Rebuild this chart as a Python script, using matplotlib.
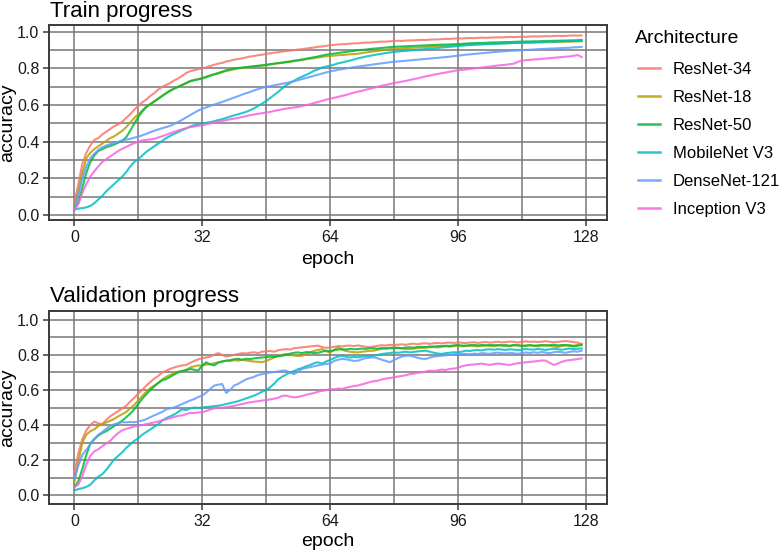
import matplotlib
matplotlib.use('Agg')
import matplotlib.pyplot as plt
from matplotlib.lines import Line2D

plt.rcParams['font.family'] = ['Liberation Sans', 'DejaVu Sans']

W, H = 780, 554
epochs = list(range(128))
architectures = ['ResNet-34', 'ResNet-18', 'ResNet-50', 'MobileNet V3', 'DenseNet-121', 'Inception V3']
colors = ['#F8766D', '#B79F00', '#00BA38', '#00BFC4', '#619CFF', '#F564E3']
x_ticks = [0, 32, 64, 96, 128]
y_ticks = [0.0, 0.2, 0.4, 0.6, 0.8, 1.0]
y_tick_labels = ['0.0', '0.2', '0.4', '0.6', '0.8', '1.0']

# ---------------- Train accuracy ----------------
train_resnet34 = [.07, .17, .28, .34, .38, .41, .42, .44, .455, .47, .485, .495, .51, .53, .55, .575,
                  .595, .615, .63, .65, .665, .685, .70, .71, .72, .735, .745, .76, .775, .785, .79, .795,
                  .80, .806, .813, .82, .826, .83, .838, .842, .848, .851, .855, .86, .865, .868, .872, .875,
                  .88, .882, .886, .888, .892, .895, .897, .90, .903, .905, .908, .912, .914, .918, .92, .923,
                  .927, .928, .931, .932, .933, .935, .937, .937, .94, .941, .941, .943, .945, .946, .946, .948,
                  .95, .951, .95, .952, .953, .953, .955, .956, .955, .957, .958, .958, .96, .961, .961, .963,
                  .964, .963, .965, .966, .965, .967, .968, .967, .968, .969, .97, .969, .971, .972, .971, .972,
                  .973, .972, .974, .975, .974, .975, .976, .975, .977, .978, .977, .978, .979, .98, .979, .98]
train_resnet18 = [.05, .13, .23, .31, .34, .36, .375, .39, .405, .42, .43, .445, .46, .48, .505, .53,
                  .55, .57, .59, .605, .62, .635, .65, .665, .68, .69, .70, .71, .72, .732, .738, .742,
                  .748, .755, .762, .768, .772, .78, .786, .79, .795, .80, .802, .805, .808, .81, .813, .815,
                  .818, .822, .825, .828, .83, .834, .836, .84, .843, .846, .85, .853, .856, .86, .863, .866,
                  .868, .87, .872, .873, .875, .877, .878, .88, .884, .887, .89, .893, .896, .899, .902, .905,
                  .907, .908, .91, .911, .912, .913, .914, .916, .917, .918, .92, .921, .922, .923, .924, .925,
                  .927, .928, .93, .931, .932, .933, .933, .934, .935, .935, .936, .937, .937, .938, .939, .939,
                  .94, .94, .941, .941, .942, .942, .943, .943, .944, .945, .945, .946, .946, .947, .947, .948]
train_resnet50 = [.03, .07, .15, .23, .29, .325, .35, .36, .37, .377, .385, .395, .405, .425, .46, .50,
                  .535, .565, .59, .605, .62, .635, .65, .665, .678, .69, .70, .71, .72, .73, .735, .74,
                  .745, .752, .76, .768, .775, .782, .79, .795, .80, .802, .805, .807, .81, .812, .815, .817,
                  .82, .823, .826, .829, .832, .835, .838, .842, .845, .849, .853, .857, .861, .865, .87, .875,
                  .878, .881, .884, .887, .89, .893, .896, .899, .901, .903, .906, .908, .91, .912, .914, .916,
                  .918, .919, .92, .921, .922, .923, .924, .925, .926, .927, .928, .929, .93, .93, .931, .932,
                  .933, .934, .936, .937, .938, .939, .939, .94, .941, .942, .942, .943, .944, .944, .945, .946,
                  .946, .947, .947, .948, .948, .949, .95, .95, .951, .951, .952, .952, .953, .953, .954, .955]
train_mobilenet = [.03, .035, .038, .042, .05, .065, .085, .105, .13, .15, .17, .19, .21, .235, .265, .29,
                   .305, .325, .345, .36, .375, .39, .405, .42, .432, .443, .453, .463, .473, .483, .49, .495,
                   .50, .503, .507, .512, .518, .523, .53, .537, .544, .55, .556, .563, .572, .582, .595, .608,
                   .622, .638, .655, .672, .69, .708, .72, .733, .745, .755, .765, .775, .787, .795, .805, .81,
                   .815, .82, .828, .832, .838, .843, .849, .855, .86, .865, .869, .873, .877, .88, .884, .887,
                   .89, .892, .894, .896, .898, .90, .902, .904, .906, .908, .91, .912, .914, .916, .918, .92,
                   .922, .924, .926, .928, .929, .93, .931, .932, .933, .934, .935, .936, .937, .938, .939, .94,
                   .941, .942, .942, .943, .944, .944, .945, .946, .946, .947, .948, .948, .949, .95, .95, .951]
train_densenet = [.027, .11, .20, .265, .31, .335, .355, .37, .38, .387, .393, .40, .408, .412, .416, .422,
                  .428, .435, .443, .452, .46, .467, .474, .48, .487, .497, .508, .52, .533, .545, .558, .57,
                  .58, .587, .595, .603, .61, .617, .625, .633, .641, .649, .657, .665, .672, .68, .687, .694,
                  .70, .703, .708, .712, .716, .72, .725, .73, .736, .742, .748, .754, .76, .766, .772, .778,
                  .784, .788, .792, .796, .80, .803, .807, .81, .813, .816, .819, .822, .825, .828, .831, .834,
                  .836, .838, .84, .842, .844, .846, .848, .85, .852, .854, .856, .858, .86, .862, .864, .867,
                  .87, .872, .875, .877, .879, .881, .883, .885, .887, .889, .891, .893, .894, .896, .897, .898,
                  .90, .901, .902, .903, .905, .906, .907, .908, .909, .91, .911, .912, .913, .915, .916, .918]
train_inception = [.03, .06, .12, .17, .21, .24, .265, .29, .305, .32, .335, .35, .362, .372, .383, .392,
                   .40, .407, .41, .413, .416, .423, .43, .438, .446, .454, .462, .468, .474, .48, .483, .487,
                   .49, .495, .50, .505, .51, .514, .518, .522, .526, .53, .535, .54, .545, .549, .552, .556,
                   .559, .563, .568, .572, .577, .581, .584, .587, .59, .595, .60, .605, .611, .617, .623, .629,
                   .635, .64, .645, .65, .655, .662, .668, .673, .678, .684, .69, .695, .70, .706, .71, .715,
                   .72, .724, .728, .732, .737, .742, .746, .752, .757, .761, .766, .77, .774, .778, .782, .786,
                   .79, .792, .794, .797, .80, .802, .805, .808, .81, .813, .816, .818, .82, .823, .826, .835,
                   .843, .845, .847, .849, .85, .852, .854, .856, .858, .86, .862, .864, .866, .869, .873, .862]

# ---------------- Validation accuracy ----------------
val_resnet34 = [.13, .24, .32, .37, .40, .42, .41, .405, .43, .45, .465, .48, .495, .51, .535, .555,
                .58, .60, .625, .645, .665, .68, .70, .71, .72, .728, .735, .74, .742, .755, .765, .775,
                .78, .785, .79, .80, .81, .80, .79, .795, .80, .805, .81, .808, .812, .815, .81, .818,
                .82, .822, .818, .826, .83, .833, .83, .838, .84, .843, .845, .848, .85, .853, .845, .84,
                .842, .846, .85, .848, .852, .853, .85, .854, .85, .846, .843, .848, .852, .855, .853, .857,
                .856, .858, .86, .857, .862, .864, .86, .865, .866, .863, .866, .868, .865, .869, .87, .868,
                .871, .869, .867, .87, .872, .868, .871, .873, .87, .872, .875, .871, .873, .876, .874, .871,
                .875, .877, .874, .876, .873, .875, .878, .875, .872, .874, .877, .879, .876, .873, .87, .862]
val_resnet18 = [.076, .19, .30, .345, .365, .375, .395, .405, .415, .425, .435, .45, .462, .475, .495, .515,
                .54, .565, .59, .61, .625, .64, .66, .675, .685, .695, .705, .708, .715, .728, .735, .74,
                .738, .745, .748, .752, .758, .762, .767, .765, .77, .767, .772, .768, .765, .762, .76, .758,
                .765, .775, .785, .795, .80, .805, .80, .796, .794, .795, .805, .815, .822, .828, .833, .82,
                .814, .828, .843, .83, .822, .818, .815, .814, .818, .82, .823, .824, .83, .835, .838, .84,
                .843, .84, .836, .834, .833, .836, .838, .84, .842, .843, .845, .842, .847, .849, .846, .85,
                .852, .849, .851, .853, .85, .848, .852, .855, .851, .849, .853, .856, .852, .85, .854, .857,
                .853, .851, .855, .852, .849, .853, .856, .852, .848, .845, .85, .853, .856, .852, .857, .86]
val_resnet50 = [.047, .08, .15, .23, .295, .32, .34, .355, .365, .38, .395, .41, .425, .445, .465, .49,
                .52, .55, .575, .60, .62, .64, .655, .662, .675, .688, .70, .708, .712, .72, .715, .71,
                .74, .758, .745, .74, .755, .762, .767, .77, .775, .777, .772, .778, .776, .78, .783, .785,
                .786, .79, .788, .792, .795, .80, .807, .812, .814, .81, .816, .814, .81, .812, .818, .824,
                .82, .826, .83, .833, .83, .835, .832, .833, .836, .834, .838, .837, .835, .839, .836, .838,
                .837, .84, .838, .842, .843, .841, .845, .846, .844, .848, .847, .85, .849, .852, .851, .854,
                .856, .853, .852, .855, .857, .854, .856, .853, .857, .855, .856, .853, .855, .852, .856, .854,
                .85, .853, .855, .852, .854, .856, .853, .855, .858, .854, .856, .856, .852, .848, .852, .856]
val_mobilenet = [.028, .035, .04, .048, .06, .085, .105, .12, .145, .175, .205, .225, .245, .27, .29, .31,
                 .325, .345, .36, .375, .39, .405, .425, .44, .45, .46, .475, .49, .485, .495, .50, .498,
                 .50, .503, .505, .508, .51, .514, .52, .525, .53, .536, .544, .552, .56, .568, .578, .59,
                 .60, .615, .635, .66, .675, .688, .70, .708, .718, .725, .735, .742, .752, .758, .75, .762,
                 .77, .782, .79, .795, .79, .785, .788, .786, .79, .794, .792, .795, .80, .805, .808, .81,
                 .814, .812, .815, .818, .814, .817, .82, .822, .824, .818, .812, .808, .805, .81, .812, .815,
                 .814, .818, .824, .822, .826, .828, .825, .83, .832, .829, .833, .83, .828, .832, .83, .827,
                 .83, .833, .831, .83, .834, .831, .828, .832, .835, .832, .829, .833, .836, .832, .835, .837]
val_densenet = [.095, .17, .23, .26, .29, .32, .345, .36, .38, .395, .405, .41, .417, .415, .418, .416,
                .42, .426, .433, .445, .455, .465, .475, .49, .495, .50, .51, .52, .53, .54, .548, .56,
                .568, .585, .605, .625, .63, .634, .583, .60, .625, .635, .648, .66, .668, .675, .685, .69,
                .695, .70, .702, .705, .71, .71, .70, .69, .705, .72, .725, .73, .735, .74, .745, .748,
                .75, .765, .772, .777, .775, .77, .766, .767, .775, .782, .784, .786, .78, .772, .765, .758,
                .77, .782, .79, .795, .795, .79, .783, .778, .777, .785, .79, .793, .795, .798, .80, .803,
                .805, .804, .806, .803, .807, .805, .81, .808, .806, .81, .813, .81, .808, .812, .809, .806,
                .81, .814, .811, .815, .812, .816, .813, .81, .815, .818, .815, .812, .817, .82, .818, .824]
val_inception = [.047, .06, .11, .175, .225, .25, .262, .28, .295, .31, .335, .355, .37, .378, .385, .392,
                 .395, .40, .405, .41, .415, .42, .428, .432, .44, .446, .452, .455, .462, .47, .468, .472,
                 .473, .48, .488, .495, .50, .498, .502, .506, .51, .515, .52, .525, .53, .533, .536, .54,
                 .542, .546, .55, .555, .566, .568, .562, .558, .56, .566, .572, .578, .582, .59, .595, .598,
                 .606, .603, .608, .606, .612, .618, .622, .625, .632, .638, .645, .65, .653, .66, .665, .668,
                 .672, .676, .68, .684, .69, .693, .698, .70, .705, .71, .708, .712, .716, .714, .72, .722,
                 .726, .735, .74, .743, .745, .748, .75, .746, .743, .747, .75, .748, .745, .742, .748, .752,
                 .755, .758, .76, .762, .765, .768, .767, .755, .742, .75, .76, .767, .77, .773, .776, .78]

train_series = [train_resnet34, train_resnet18, train_resnet50, train_mobilenet, train_densenet, train_inception]
val_series = [val_resnet34, val_resnet18, val_resnet50, val_mobilenet, val_densenet, val_inception]

fig = plt.figure(figsize=(W / 100, H / 100), dpi=100)


def px_box(l, t, r, b):
    return [l / W, 1 - b / H, (r - l) / W, (b - t) / H]


def fx(x):
    return x / W


def fy(y):
    return 1 - y / H


panels = [
    dict(box=(49, 25, 607, 220), ylim=(-0.027, 1.037), title='Train progress', title_y=17,
         xlabel_y=264, series=train_series),
    dict(box=(49, 311, 607, 504), ylim=(-0.05, 1.05), title='Validation progress', title_y=302,
         xlabel_y=546, series=val_series),
]

for p in panels:
    l, t, r, b = p['box']
    ax = fig.add_axes(px_box(l, t, r, b))
    ax.set_xlim(-6.35, 133.35)
    ax.set_ylim(*p['ylim'])
    ax.set_xticks(x_ticks)
    ax.set_xticks([16, 48, 80, 112], minor=True)
    ax.set_yticks(y_ticks)
    ax.set_yticklabels(y_tick_labels)
    ax.set_yticks([0.1, 0.3, 0.5, 0.7, 0.9], minor=True)
    ax.grid(which='both', color='#777777', linewidth=1.1)
    ax.set_axisbelow(True)
    ax.tick_params(which='minor', length=0)
    ax.tick_params(which='major', length=4, width=1.1, color='#3a3a3a', labelsize=11.5,
                   labelcolor='#1a1a1a', pad=3)
    for s in ax.spines.values():
        s.set_color('#3a3a3a')
        s.set_linewidth(1.4)
    for ys, col in zip(p['series'], colors):
        ax.plot(epochs, ys, color=col, linewidth=1.5, alpha=0.85)
    fig.text(fx(50), fy(p['title_y']), p['title'], fontsize=16, ha='left', va='baseline')
    fig.text(fx(328), fy(p['xlabel_y']), 'epoch', fontsize=14, ha='center', va='baseline')
    fig.text(fx(8), fy((t + b) / 2), 'accuracy', fontsize=14, rotation=90, ha='center', va='center')

# legend
fig.text(fx(635), fy(43), 'Architecture', fontsize=14, ha='left', va='baseline')
for i, (name, col) in enumerate(zip(architectures, colors)):
    y = 68 + 28.06 * i
    fig.add_artist(Line2D([fx(638), fx(660)], [fy(y), fy(y)], color=col, linewidth=1.8, alpha=0.85))
    fig.text(fx(673), fy(y + 6), name, fontsize=12, ha='left', va='baseline')

fig.savefig('out.png', dpi=100)
